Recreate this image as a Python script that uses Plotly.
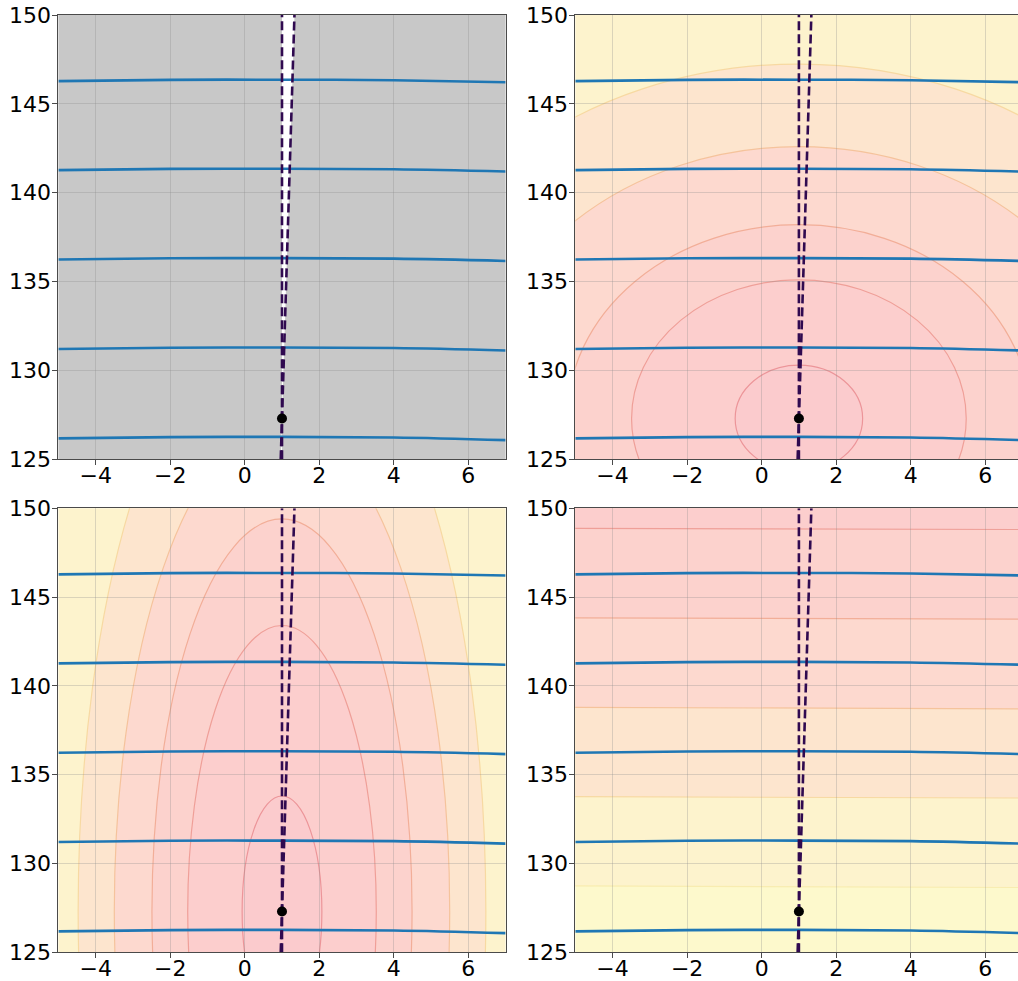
import plotly.graph_objects as go

# ---- data -------------------------------------------------------------
X_RANGE = [-5, 7]
Y_RANGE = [125, 150]
X_TICKS = [-4, -2, 0, 2, 4, 6]
X_TICK_TEXT = ["\u22124", "\u22122", "0", "2", "4", "6"]
Y_TICKS = [125, 130, 135, 140, 145, 150]

# blue level curves, sampled at curve_x
curve_x = [-5, -2, 1, 4, 7]
curve_1 = [146.28, 146.35, 146.36, 146.33, 146.22]
curve_2 = [141.27, 141.34, 141.35, 141.32, 141.19]
curve_3 = [136.24, 136.31, 136.32, 136.29, 136.16]
curve_4 = [131.21, 131.28, 131.29, 131.26, 131.12]
curve_5 = [126.18, 126.25, 126.26, 126.23, 126.08]
curves = [curve_1, curve_2, curve_3, curve_4, curve_5]

# dashed guide lines
guide_a_x = [1.0, 1.0]
guide_a_y = [125, 150]
guide_b_x = [0.966, 1.334]
guide_b_y = [125, 150]

# optimum point
opt_x = [1.0]
opt_y = [127.3]

# elliptical contour levels around the optimum, outer to inner (semi-axes)
wide_ax = [11.4, 8.74, 6.22, 4.49, 1.71]
wide_ay = [19.94, 15.29, 10.9, 7.8, 3.0]
tall_ax = [5.47, 4.5, 3.49, 2.53, 1.07]
tall_ay = [34.2, 27.4, 22.1, 16.1, 6.5]

# horizontal band boundaries at the left (x=-5) and right (x=7) edges
band_left = [128.75, 133.77, 138.80, 143.84, 148.87]
band_right = [128.64, 133.68, 138.70, 143.75, 148.80]

# ---- styling ----------------------------------------------------------
level_fill = ["#fdf9cc", "#fdf3cd", "#fde5ce", "#fdd9cf", "#fcd2cd", "#fccecd", "#fbcbcd"]
level_line = ["#f8ecb0", "#f7d9a2", "#f5c39c", "#f2ae98", "#ef9f98", "#ec9599"]
GRAY_FILL = "#c8c8c8"
BLUE = "#1f77b4"
PURPLE = "#300a50"
SPINE = "#4a4a4a"
FONT = dict(family="DejaVu Sans", size=22, color="black")

W, H = 1018, 981
PANEL_W = 447.2
LEFT_X = [58.4, 505.6]
RIGHT_X0 = 575.3
TOP_Y = [15.0, 459.3]
BOT_Y = [508.3, 952.3]

right_x_end = X_RANGE[0] + (X_RANGE[1] - X_RANGE[0]) * (W - RIGHT_X0) / PANEL_W

panels = [
    dict(ax="", dx=[LEFT_X[0] / W, LEFT_X[1] / W], dy=[1 - TOP_Y[1] / H, 1 - TOP_Y[0] / H], xr=X_RANGE, right=False),
    dict(ax="2", dx=[RIGHT_X0 / W, 1.0], dy=[1 - TOP_Y[1] / H, 1 - TOP_Y[0] / H], xr=[X_RANGE[0], right_x_end], right=True),
    dict(ax="3", dx=[LEFT_X[0] / W, LEFT_X[1] / W], dy=[1 - BOT_Y[1] / H, 1 - BOT_Y[0] / H], xr=X_RANGE, right=False),
    dict(ax="4", dx=[RIGHT_X0 / W, 1.0], dy=[1 - BOT_Y[1] / H, 1 - BOT_Y[0] / H], xr=[X_RANGE[0], right_x_end], right=True),
]

fig = go.Figure()
shapes = []


def ref(p):
    return "x" + p["ax"], "y" + p["ax"]


def bg_rect(p, color):
    xr, yr = ref(p)
    shapes.append(dict(type="rect", xref=xr, yref=yr, x0=-20, x1=20, y0=100, y1=200,
                       fillcolor=color, line=dict(width=0), layer="below"))


def ellipses(p, axs, ays):
    xr, yr = ref(p)
    cx, cy = opt_x[0], opt_y[0]
    for i, (a, b) in enumerate(zip(axs, ays)):
        shapes.append(dict(type="circle", xref=xr, yref=yr,
                           x0=cx - a, x1=cx + a, y0=cy - b, y1=cy + b,
                           fillcolor=level_fill[i + 2],
                           line=dict(color=level_line[i + 1], width=1.2),
                           layer="below"))


# panel 1: gray region, open wedge between the two guides
p1 = panels[0]
bg_rect(p1, GRAY_FILL)
xr, yr = ref(p1)
wedge = (f"M {guide_a_x[1]} {guide_a_y[1]} L {guide_b_x[1]} {guide_b_y[1]} "
         f"L {guide_b_x[0]} {guide_b_y[0]} L {guide_a_x[0]} {guide_a_y[0]} Z")
shapes.append(dict(type="path", path=wedge, xref=xr, yref=yr,
                   fillcolor="white", line=dict(width=0), layer="below"))

# panel 2: wide ellipses
bg_rect(panels[1], level_fill[1])
ellipses(panels[1], wide_ax, wide_ay)

# panel 3: tall ellipses
bg_rect(panels[2], level_fill[1])
ellipses(panels[2], tall_ax, tall_ay)

# panel 4: horizontal bands
p4 = panels[3]
bg_rect(p4, level_fill[0])
xr, yr = ref(p4)
xl, xrgt = X_RANGE
for i, (yl, yrr) in enumerate(zip(band_left, band_right)):
    path = f"M {xl - 1} {yl} L {xrgt + 1} {yrr} L {xrgt + 1} 200 L {xl - 1} 200 Z"
    shapes.append(dict(type="path", path=path, xref=xr, yref=yr,
                       fillcolor=level_fill[i + 1], line=dict(width=0), layer="below"))
    shapes.append(dict(type="line", xref=xr, yref=yr, x0=xl - 1, x1=xrgt + 1, y0=yl, y1=yrr,
                       line=dict(color=level_line[i], width=1.2), layer="below"))

# ---- traces -----------------------------------------------------------
for p in panels:
    xa, ya = ref(p)
    for cy in curves:
        fig.add_trace(go.Scatter(x=curve_x, y=cy, mode="lines", xaxis=xa, yaxis=ya,
                                 line=dict(color=BLUE, width=2.6, shape="spline"),
                                 hoverinfo="skip", showlegend=False))
    for gx, gy in ((guide_a_x, guide_a_y), (guide_b_x, guide_b_y)):
        fig.add_trace(go.Scatter(x=gx, y=gy, mode="lines", xaxis=xa, yaxis=ya,
                                 line=dict(color=PURPLE, width=2.6, dash="9px,4px"),
                                 hoverinfo="skip", showlegend=False))
    fig.add_trace(go.Scatter(x=opt_x, y=opt_y, mode="markers", xaxis=xa, yaxis=ya,
                             marker=dict(color="black", size=10),
                             hoverinfo="skip", showlegend=False))

# ---- axes -------------------------------------------------------------
layout = dict(
    width=W, height=H,
    margin=dict(l=0, r=0, t=0, b=0),
    template="none",
    paper_bgcolor="white",
    plot_bgcolor="white",
    font=FONT,
    showlegend=False,
    shapes=shapes,
)
for p in panels:
    common = dict(showgrid=True, gridcolor="rgba(140,140,140,0.3)", gridwidth=1,
                  zeroline=False, showline=True, linecolor=SPINE, linewidth=1,
                  ticks="outside", ticklen=5, tickwidth=1, tickcolor=SPINE,
                  tickfont=FONT, automargin=False, fixedrange=True)
    layout["xaxis" + p["ax"]] = dict(common, domain=p["dx"], range=p["xr"],
                                     tickvals=X_TICKS, ticktext=X_TICK_TEXT,
                                     ticklabelstandoff=-9,
                                     mirror=True, anchor="y" + p["ax"])
    layout["yaxis" + p["ax"]] = dict(common, domain=p["dy"], range=Y_RANGE,
                                     tickvals=Y_TICKS, ticklabelstandoff=-3,
                                     mirror=(not p["right"]), anchor="x" + p["ax"])

fig.update_layout(**layout)
fig.write_html("out.html")
